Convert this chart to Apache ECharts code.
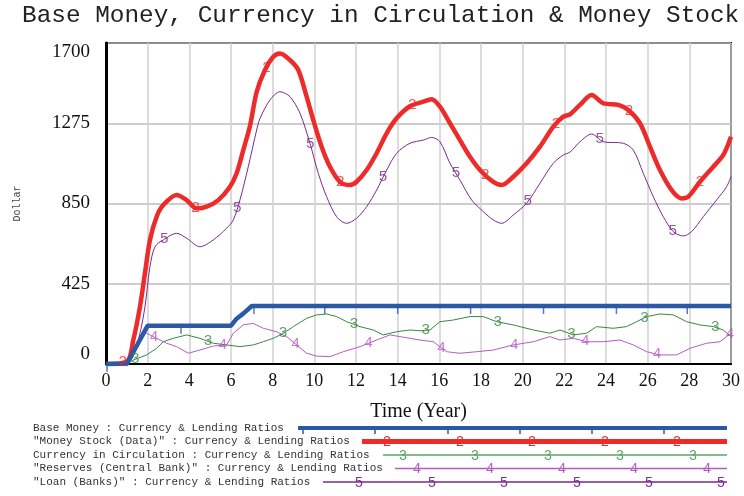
<!DOCTYPE html>
<html>
<head>
<meta charset="utf-8">
<script src="https://cdn.jsdelivr.net/npm/echarts@6/dist/echarts.min.js"></script>
<style>
  html, body { margin: 0; background: #fff; }
  #chart { width: 744px; height: 496px; }
</style>
</head>
<body>
<div id="chart"></div>
<script>
// values (time in years, value in dollars)
var baseT = [0, 1, 2, 6, 6.27, 6.6, 7, 30];
var baseV = [0, 0, 203, 203, 240, 268, 307, 307];

var moneyT = [0, 1.0, 1.31, 1.63, 1.87, 2.11, 2.43, 2.75, 3.39, 3.87, 4.35, 4.83, 5.39, 5.95, 6.27, 6.59, 6.91, 7.23, 7.63, 8.03, 8.35, 8.83, 9.23, 9.63, 9.95, 10.35, 10.75, 11.23, 11.71, 12.03, 12.51, 12.99, 13.47, 13.95, 14.59, 15.23, 15.63, 16.03, 16.51, 16.99, 17.47, 18.03, 18.59, 18.99, 19.55, 20.19, 20.83, 21.47, 21.95, 22.27, 22.75, 23.31, 23.87, 24.59, 25.07, 25.63, 26.11, 26.59, 27.15, 27.63, 27.95, 28.51, 29.15, 29.63, 30];
var moneyV = [0, 12, 127, 303, 481, 657, 780, 842, 895, 868, 824, 833, 868, 939, 1010, 1133, 1260, 1440, 1557, 1627, 1645, 1610, 1557, 1416, 1292, 1151, 1045, 965, 948, 965, 1027, 1116, 1222, 1301, 1365, 1389, 1402, 1363, 1275, 1186, 1098, 1018, 965, 948, 992, 1063, 1151, 1257, 1310, 1322, 1372, 1425, 1381, 1372, 1345, 1275, 1151, 1027, 921, 877, 886, 965, 1045, 1107, 1204];

var currT = [0, 1.0, 1.31, 1.95, 2.43, 2.75, 3.23, 3.87, 4.51, 5.15, 5.79, 6.43, 7.07, 7.55, 8.03, 8.51, 8.99, 9.63, 10.11, 10.59, 11.07, 11.55, 12.19, 12.83, 13.31, 13.95, 14.59, 15.07, 15.55, 16.03, 16.67, 17.47, 18.11, 18.75, 19.55, 20.51, 21.31, 21.79, 22.43, 23.07, 23.55, 24.35, 24.99, 25.47, 25.95, 26.59, 27.23, 27.87, 28.51, 29.15, 29.63, 30];
var currV = [0, 0, 21, 48, 83, 118, 136, 154, 136, 110, 101, 92, 101, 118, 136, 162, 198, 242, 260, 265, 251, 224, 198, 180, 154, 171, 180, 176, 180, 224, 233, 251, 251, 224, 207, 180, 163, 180, 154, 163, 198, 189, 198, 224, 251, 265, 260, 224, 207, 198, 180, 145];

var resT = [0, 1.0, 1.63, 1.95, 2.43, 2.91, 3.39, 3.95, 4.51, 5.15, 5.79, 6.11, 6.59, 7.07, 7.55, 8.19, 8.67, 9.15, 9.63, 10.11, 10.75, 11.39, 12.19, 12.99, 13.63, 14.11, 15.07, 15.71, 16.35, 16.99, 17.79, 18.59, 19.55, 20.51, 21.31, 21.79, 22.43, 23.07, 23.87, 24.67, 25.31, 25.95, 26.59, 27.39, 28.03, 28.83, 29.47, 30];
var resV = [0, 0, 145, 163, 136, 110, 92, 57, 74, 95, 101, 163, 207, 215, 189, 171, 145, 101, 57, 42, 39, 65, 92, 127, 154, 145, 127, 118, 65, 57, 65, 74, 101, 118, 145, 127, 136, 118, 118, 127, 101, 65, 48, 48, 83, 110, 118, 163];

var loanT = [0, 1.0, 1.3, 1.63, 1.87, 2.11, 2.35, 2.75, 3.39, 3.87, 4.51, 5.15, 5.79, 6.11, 6.43, 6.83, 7.23, 7.39, 7.87, 8.35, 8.83, 9.31, 9.79, 10.19, 10.59, 11.07, 11.55, 12.03, 12.51, 12.99, 13.47, 13.95, 14.59, 15.23, 15.63, 16.03, 16.51, 16.99, 17.55, 18.11, 18.59, 18.99, 19.55, 20.19, 20.83, 21.47, 21.95, 22.27, 22.75, 23.31, 23.87, 24.83, 25.31, 25.79, 26.27, 26.75, 27.23, 27.71, 28.11, 28.67, 29.31, 29.79, 30];
var loanV = [0, 5, 40, 163, 303, 515, 621, 657, 692, 666, 621, 657, 719, 763, 869, 1045, 1239, 1300, 1398, 1442, 1416, 1328, 1169, 1010, 886, 780, 745, 772, 833, 921, 1027, 1116, 1169, 1186, 1200, 1177, 1063, 974, 869, 807, 763, 745, 789, 851, 957, 1063, 1107, 1122, 1177, 1218, 1177, 1169, 1133, 1010, 886, 780, 701, 678, 701, 780, 869, 939, 992];

// times where Vensim puts its line numbers
var baseMarks = [0.05, 3.6, 7.1, 10.5, 14.0, 17.5, 21.0, 24.5, 27.9];
var moneyMarks = [0.8, 4.3, 7.7, 11.25, 14.7, 18.2, 21.6, 25.1, 28.5];
var currMarks = [1.4, 4.9, 8.5, 11.9, 15.35, 18.8, 22.35, 25.85, 29.25];
var resMarks = [2.3, 5.6, 9.1, 12.6, 16.1, 19.6, 23.0, 26.45, 29.95];
var loanMarks = [2.8, 6.3, 9.8, 13.3, 16.8, 20.25, 23.7, 27.2];

var yTicks = [0, 425, 850, 1275, 1700];

var MONO = '"Liberation Mono", monospace';
var SERIF = '"Liberation Serif", serif';

function pairs(ts, vs) {
  return ts.map(function (t, i) { return [t, vs[i]]; });
}

// position on the line at a mark time (only used to place the digit labels)
function onLine(ts, vs, t) {
  for (var i = 1; i < ts.length; i++) {
    if (t <= ts[i]) {
      var f = (t - ts[i - 1]) / (ts[i] - ts[i - 1]);
      return [t, vs[i - 1] + f * (vs[i] - vs[i - 1])];
    }
  }
  return [t, vs[vs.length - 1]];
}

function lineSeries(name, ts, vs, color, width, smooth, z) {
  return {
    name: name, type: 'line', data: pairs(ts, vs), showSymbol: false,
    smooth: smooth, z: z,
    lineStyle: { color: color, width: width }
  };
}

function markSeries(ts, vs, marks, digit, color, z) {
  return {
    type: 'scatter', z: z, silent: true,
    data: marks.map(function (t) { return onLine(ts, vs, t); }),
    symbolSize: 1, itemStyle: { color: 'transparent' },
    label: {
      show: true, position: 'inside', formatter: digit,
      color: color, fontFamily: MONO, fontSize: 15
    }
  };
}

var cBase = '#2b59a6', cMoney = '#ee2b2b', cCurr = '#37883c', cRes = '#b45cc2', cLoan = '#7a2a8c';

// legend drawn by hand, Vensim style
var legendRows = [
  { text: 'Base Money : Currency & Lending Ratios', color: cBase, width: 4, x0: 298, digit: null, marks: [303, 375, 448, 520, 592, 664] },
  { text: '"Money Stock (Data)" : Currency & Lending Ratios', color: cMoney, width: 5, x0: 362, digit: '2', marks: [387, 460, 532, 605, 677] },
  { text: 'Currency in Circulation : Currency & Lending Ratios', color: '#5aa65e', width: 1.5, x0: 383, digit: '3', marks: [403, 475, 548, 620, 693] },
  { text: '"Reserves (Central Bank)" : Currency & Lending Ratios', color: cRes, width: 1.5, x0: 395, digit: '4', marks: [417, 490, 562, 634, 707] },
  { text: '"Loan (Banks)" : Currency & Lending Ratios', color: cLoan, width: 1.5, x0: 323, digit: '5', marks: [359, 432, 504, 577, 649, 721] }
];

var graphic = [{
  type: 'text', x: 22, y: 4,
  style: { text: 'Base Money, Currency in Circulation & Money Stock', font: '24.4px ' + MONO, fill: '#222' }
}];

legendRows.forEach(function (row, i) {
  var y = 428 + i * 13.5;
  graphic.push({
    type: 'text', x: 33, y: y,
    style: { text: row.text, font: '11px ' + MONO, fill: '#333', verticalAlign: 'middle' }
  });
  graphic.push({
    type: 'line', shape: { x1: row.x0, y1: y, x2: 727, y2: y },
    style: { stroke: row.color, lineWidth: row.width }
  });
  row.marks.forEach(function (mx) {
    if (row.digit) {
      graphic.push({
        type: 'text', x: mx, y: y + 1,
        style: { text: row.digit, font: '14px ' + MONO, fill: row.color, align: 'center', verticalAlign: 'middle' }
      });
    } else {
      graphic.push({
        type: 'line', shape: { x1: mx, y1: y - 2, x2: mx, y2: y + 6 },
        style: { stroke: row.color, lineWidth: 1.5 }
      });
    }
  });
});

var option = {
  animation: false,
  backgroundColor: '#fff',
  grid: { left: 106, right: 13, top: 43, bottom: 132, show: true, borderColor: '#000', borderWidth: 2 },
  xAxis: {
    type: 'value', min: 0, max: 30, interval: 2,
    name: 'Time (Year)', nameLocation: 'middle', nameGap: 38,
    nameTextStyle: { fontFamily: SERIF, fontSize: 20, color: '#111' },
    axisLine: { lineStyle: { color: '#000', width: 2 } },
    axisTick: { show: false },
    axisLabel: { fontFamily: SERIF, fontSize: 18, color: '#111', margin: 8 },
    splitLine: { lineStyle: { color: '#d0d0d0', width: 1.5 } }
  },
  yAxis: {
    type: 'value', min: yTicks[0], max: yTicks[yTicks.length - 1], interval: yTicks[1] - yTicks[0],
    name: 'Dollar', nameLocation: 'middle', nameGap: 84, nameRotate: 90,
    nameTextStyle: { fontFamily: MONO, fontSize: 10, color: '#444' },
    axisLine: { show: true, lineStyle: { color: '#000', width: 3 } },
    axisTick: { show: false },
    axisLabel: {
      fontFamily: SERIF, fontSize: 19, color: '#111', margin: 16,
      formatter: function (v) { return String(v); },
      verticalAlignMaxLabel: 'top', verticalAlignMinLabel: 'bottom'
    },
    splitLine: { lineStyle: { color: '#bdbdbd', width: 1.5 } }
  },
  graphic: graphic,
  series: [
    lineSeries('Loan', loanT, loanV, cLoan, 1, 0.3, 2),
    lineSeries('Reserves', resT, resV, cRes, 1, false, 2),
    lineSeries('Currency', currT, currV, cCurr, 1, false, 2),
    lineSeries('Money Stock', moneyT, moneyV, cMoney, 4.5, 0.3, 3),
    lineSeries('Base Money', baseT, baseV, cBase, 4.5, false, 4),
    markSeries(loanT, loanV, loanMarks, '5', cLoan, 6),
    markSeries(resT, resV, resMarks, '4', cRes, 6),
    markSeries(currT, currV, currMarks, '3', cCurr, 6),
    markSeries(moneyT, moneyV, moneyMarks, '2', cMoney, 6),
    {
      type: 'scatter', z: 6, silent: true,
      data: baseMarks.map(function (t) { return onLine(baseT, baseV, t); }),
      symbol: 'rect', symbolSize: [1.5, 10], symbolOffset: [0, 3],
      itemStyle: { color: cBase }
    }
  ]
};

var chart = echarts.init(document.getElementById('chart'));
chart.setOption(option);
</script>
</body>
</html>
